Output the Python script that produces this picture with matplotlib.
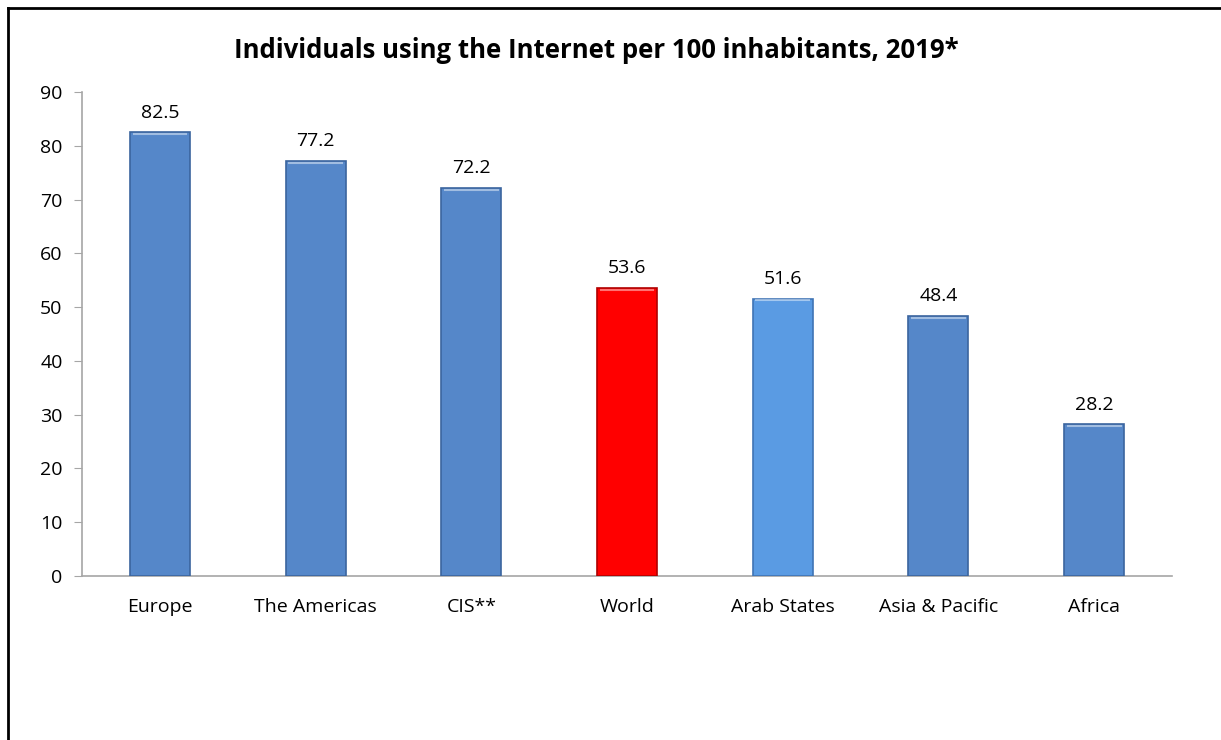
import matplotlib
matplotlib.use("Agg")
import matplotlib.pyplot as plt
from matplotlib.lines import Line2D

categories = ["Europe", "The Americas", "CIS**", "World", "Arab States", "Asia & Pacific", "Africa"]
values = [82.5, 77.2, 72.2, 53.6, 51.6, 48.4, 28.2]
labels = ["82.5", "77.2", "72.2", "53.6", "51.6", "48.4", "28.2"]
colors = ["#5587C9", "#5587C9", "#5587C9", "#FF0000", "#5A9BE3", "#5587C9", "#5587C9"]
edges = ["#3B659E", "#3B659E", "#3B659E", "#B00000", "#3F74B5", "#3B659E", "#3B659E"]
yticks = [0, 10, 20, 30, 40, 50, 60, 70, 80, 90]
title = "Individuals using the Internet per 100 inhabitants, 2019*"

plt.rcParams['font.family'] = ['Open Sans', 'DejaVu Sans']

fig = plt.figure(figsize=(12.21, 7.40), dpi=100)
ax = fig.add_axes([0.0672, 0.2216, 0.8927, 0.6541])

x = list(range(len(categories)))
bars = ax.bar(x, values, width=0.385, color=colors, edgecolor=edges, linewidth=1.2, zorder=3)

# bevel highlight at top of each bar
for b in bars:
    bx, bw, bh = b.get_x(), b.get_width(), b.get_height()
    ax.add_line(Line2D([bx + bw * 0.06, bx + bw * 0.94], [bh - 0.35, bh - 0.35],
                       color="white", alpha=0.45, lw=1.5, zorder=4))

for xi, v, lab in zip(x, values, labels):
    ax.text(xi, v + 2.0, lab, ha="center", va="bottom", fontsize=14, color="black")

ax.set_xlim(-0.5, len(categories) - 0.5)
ax.set_ylim(0, 90)
ax.set_yticks(yticks)
ax.set_xticks(x)
ax.set_xticklabels(categories, fontsize=14)
ax.tick_params(axis='y', labelsize=14, length=6, color="#A6A6A6", direction="out", pad=8)
ax.tick_params(axis='x', length=0, pad=16)
for s in ["top", "right"]:
    ax.spines[s].set_visible(False)
ax.spines["left"].set_color("#A6A6A6")
ax.spines["bottom"].set_color("#A6A6A6")
ax.spines["left"].set_linewidth(1.2)
ax.spines["bottom"].set_linewidth(1.2)

fig.text(0.488, 0.932, title, ha="center", va="center", fontsize=18.5, fontweight="bold")

# figure border (left and top)
fig.add_artist(Line2D([8 / 1221, 8 / 1221], [0, 1 - 8 / 740], transform=fig.transFigure, color="black", lw=2))
fig.add_artist(Line2D([8 / 1221, 1], [1 - 8 / 740, 1 - 8 / 740], transform=fig.transFigure, color="black", lw=2))

fig.savefig("out.png", dpi=100)
